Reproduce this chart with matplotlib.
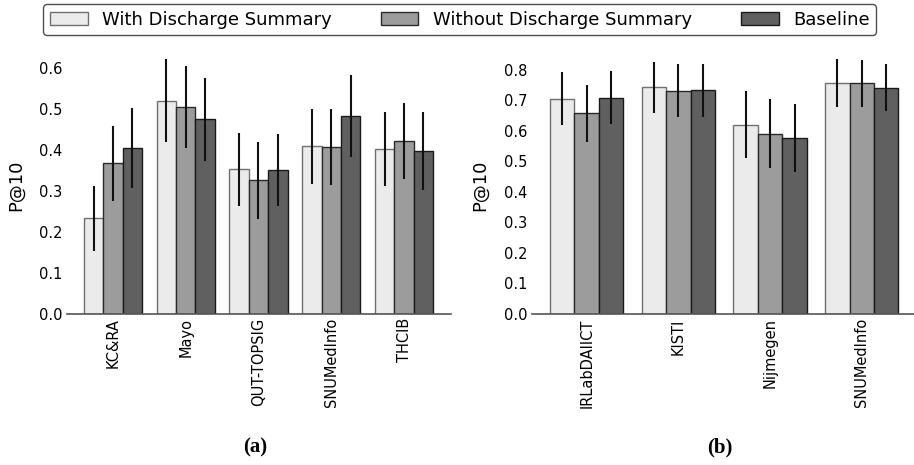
import matplotlib
matplotlib.use("Agg")
import matplotlib.pyplot as plt
import numpy as np

series = ["With Discharge Summary", "Without Discharge Summary", "Baseline"]
colors = ["#ebebeb", "#9c9c9c", "#606060"]
edges = ["#707070", "#2a2a2a", "#1a1a1a"]

cats_a = ["KC&RA", "Mayo", "QUT-TOPSIG", "SNUMedInfo", "THCIB"]
with_a = [0.233, 0.519, 0.352, 0.408, 0.401]
without_a = [0.367, 0.505, 0.326, 0.407, 0.421]
base_a = [0.404, 0.474, 0.350, 0.482, 0.396]
err_with_a = [0.079, 0.101, 0.088, 0.092, 0.090]
err_without_a = [0.092, 0.100, 0.094, 0.093, 0.092]
err_base_a = [0.097, 0.102, 0.088, 0.100, 0.095]

cats_b = ["IRLabDAIICT", "KISTI", "Nijmegen", "SNUMedInfo"]
with_b = [0.705, 0.743, 0.621, 0.757]
without_b = [0.658, 0.731, 0.590, 0.756]
base_b = [0.709, 0.733, 0.576, 0.741]
err_with_b = [0.087, 0.083, 0.111, 0.078]
err_without_b = [0.093, 0.087, 0.113, 0.078]
err_base_b = [0.087, 0.087, 0.112, 0.077]

fig = plt.figure(figsize=(9.14, 4.65), dpi=100)
ax_a = fig.add_axes([0.073, 0.3247, 0.42, 0.5519])
ax_b = fig.add_axes([0.5817, 0.3247, 0.4183, 0.5519])

def draw(ax, cats, vals, errs, ylim, xlim, yticks):
    x = np.arange(len(cats))
    w = 0.8 / 3
    for i, (v, e) in enumerate(zip(vals, errs)):
        pos = x - 0.8 / 2 + w / 2 + i * w
        ax.bar(pos, v, width=w, color=colors[i], edgecolor=edges[i], linewidth=1.0,
               label=series[i], zorder=2)
        ax.errorbar(pos, v, yerr=e, fmt="none", ecolor="#111111", elinewidth=1.5,
                    capsize=0, zorder=3)
    ax.set_xticks(x)
    ax.set_xticklabels(cats, rotation=90, fontsize=10.5)
    ax.set_ylim(*ylim)
    ax.set_xlim(*xlim)
    ax.set_yticks(yticks)
    ax.set_yticklabels([f"{t:.1f}" for t in yticks], fontsize=10.5)
    ax.tick_params(length=0, pad=3)
    for s in ["left", "right", "top"]:
        ax.spines[s].set_visible(False)
    ax.spines["bottom"].set_color("#555555")
    ax.spines["bottom"].set_linewidth(1.2)
    ax.set_ylabel("P@10", fontsize=13)

draw(ax_a, cats_a, [with_a, without_a, base_a], [err_with_a, err_without_a, err_base_a],
     (0, 0.625), (-0.635, 4.64), np.arange(0, 0.61, 0.1))
draw(ax_b, cats_b, [with_b, without_b, base_b], [err_with_b, err_without_b, err_base_b],
     (0, 0.841), (-0.6, 3.57), np.arange(0, 0.81, 0.1))
ax_a.yaxis.set_label_coords(-0.11, 0.5)
ax_b.yaxis.set_label_coords(-0.112, 0.5)

handles, labels = ax_a.get_legend_handles_labels()
leg = fig.legend(handles, labels, loc="upper center", ncol=3, bbox_to_anchor=(0.503, 0.991),
                 fontsize=13, frameon=True, fancybox=True, edgecolor="#222222",
                 handlelength=2.1, handleheight=0.72, handletextpad=0.8,
                 columnspacing=2.7, borderpad=0.35, borderaxespad=0)
leg.get_frame().set_linewidth(1.0)

fig.text(255 / 914, 1 - 447 / 465, "(a)", family="Liberation Serif", weight="bold",
         fontsize=15, ha="center", va="center")
fig.text(720 / 914, 1 - 447 / 465, "(b)", family="Liberation Serif", weight="bold",
         fontsize=15, ha="center", va="center")

fig.savefig("out.png", dpi=100)
